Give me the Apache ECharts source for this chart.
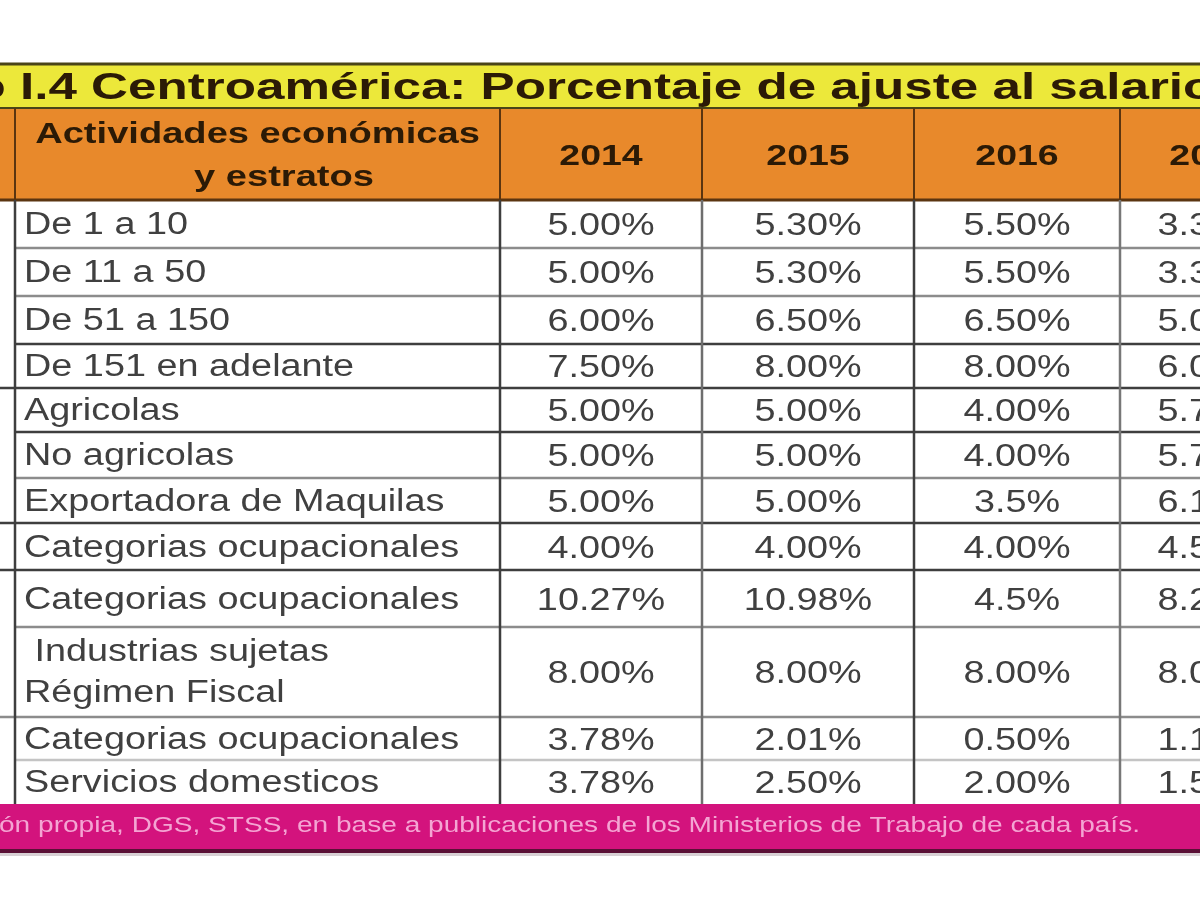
<!DOCTYPE html>
<html><head><meta charset="utf-8">
<script src="https://cdn.jsdelivr.net/npm/echarts@6/dist/echarts.min.js"></script>
<style>html,body{margin:0;padding:0;background:#fff}#c{width:1200px;height:900px}</style>
</head><body><div id="c"></div>
<script>
// ---------------- DATA ----------------
const titleText = 'Cuadro I.4 Centroamérica: Porcentaje de ajuste al salario mínimo';
const headerLabel = ['Actividades económicas', 'y estratos'];
const years = ['2014', '2015', '2016', '2017'];
const strata = ['De 1 a 10', 'De 11 a 50', 'De 51 a 150', 'De 151 en adelante', 'Agricolas', 'No agricolas',
  'Exportadora de Maquilas', 'Categorias ocupacionales', 'Categorias ocupacionales',
  ' Industrias sujetas\nRégimen Fiscal', 'Categorias ocupacionales', 'Servicios domesticos'];
const v2014 = [5.00, 5.00, 6.00, 7.50, 5.00, 5.00, 5.00, 4.00, 10.27, 8.00, 3.78, 3.78];
const v2015 = [5.30, 5.30, 6.50, 8.00, 5.00, 5.00, 5.00, 4.00, 10.98, 8.00, 2.01, 2.50];
const v2016 = [5.50, 5.50, 6.50, 8.00, 4.00, 4.00, 3.5, 4.00, 4.5, 8.00, 0.50, 2.00];
const v2017 = [3.30, 3.30, 5.00, 6.00, 5.70, 5.70, 6.10, 4.50, 8.25, 8.00, 1.13, 1.50];
const dec2014 = [2, 2, 2, 2, 2, 2, 2, 2, 2, 2, 2, 2];
const dec2015 = [2, 2, 2, 2, 2, 2, 2, 2, 2, 2, 2, 2];
const dec2016 = [2, 2, 2, 2, 2, 2, 1, 2, 1, 2, 2, 2];
const dec2017 = [2, 2, 2, 2, 2, 2, 2, 2, 2, 2, 2, 2];
const sourceText = 'Fuente: Elaboración propia, DGS, STSS, en base a publicaciones de los Ministerios de Trabajo de cada país.';

// ---------------- LAYOUT (page units) ----------------
const colX = [-300, 15, 500, 702, 914, 1120, 1302];
const rowY = [200, 248, 296, 344, 388, 432, 478, 523, 570, 627, 717, 760, 804];
const titleBand = [64, 108];
const headerBand = [108, 200];
const footerBand = [804, 849];
const groupLines = [388, 523, 570, 717];          // lines reaching the left edge
const darkLines = [344, 388, 432, 523, 570];
const lightLines = [760];

// ---------------- STYLE ----------------
const FF = '"Liberation Sans", Arial, sans-serif';
const C = {
  yellow: '#ECE83A', orange: '#E8892B', head: '#2b1a06', body: '#404040',
  magenta: '#D3137D', pinkText: '#F4A5D3', footLine: '#5A1036',
  dark: '#3e3e3e', grey: '#8c8c8c', light: '#c4c4c4', brown: '#5b3510', olive: '#4a4518'
};

const ctx = document.createElement('canvas').getContext('2d');
function tw(text, font) { ctx.font = font; return ctx.measureText(text).width; }

const els = [];
function rect(x0, y0, x1, y1, fill) { els.push({ k: 'rect', x0, y0, x1, y1, fill }); }
function line(x0, y0, x1, y1, stroke, w) { els.push({ k: 'line', x0, y0, x1, y1, stroke, w }); }
function text(x, y, t, font, fill, align, sx) { els.push({ k: 'text', x0: x, y0: y, t, font, fill, align, sx }); }

// backgrounds
rect(0, 0, 1200, 900, '#ffffff');
rect(-10, titleBand[0], 1210, titleBand[1], C.yellow);
rect(-10, headerBand[0], 1210, headerBand[1], C.orange);
rect(-10, footerBand[0], 1210, footerBand[1], C.magenta);
rect(-10, footerBand[1], 1210, footerBand[1] + 4, C.footLine);
rect(-10, footerBand[1] + 4, 1210, footerBand[1] + 7, '#d8d0d4');

// title
const titleFont = 'bold 37px ' + FF;
const tStart = titleText.indexOf('I.4');
const tVisible = 'I.4 Centroamérica: Porcentaje de ajuste al salari';
const tScale = (1183 - 20) / tw(tVisible, titleFont);
text(20 - tScale * tw(titleText.slice(0, tStart), titleFont), 89, titleText, titleFont, C.head, 'left', tScale);
line(-10, titleBand[0], 1210, titleBand[0], C.olive, 3);
line(-10, titleBand[1], 1210, titleBand[1], C.olive, 2);

// header
const headFont = 'bold 30px ' + FF;
text((colX[1] + colX[2]) / 2, 135, headerLabel[0], headFont, C.head, 'center', 1.27);
text(284, 178, headerLabel[1], headFont, C.head, 'center', 1.27);
years.forEach((y, j) => {
  text((colX[j + 2] + colX[j + 3]) / 2, 157, y, headFont, C.head, 'center', 1.25);
});
for (let j = 1; j < colX.length - 1; j++) line(colX[j], headerBand[0], colX[j], headerBand[1], C.brown, 2);
line(-10, headerBand[1], 1210, headerBand[1], C.brown, 3);

// body
const bodyFont = '31px ' + FF;
const cols = [v2014, v2015, v2016, v2017];
const decs = [dec2014, dec2015, dec2016, dec2017];
strata.forEach((s, i) => {
  const yc = (rowY[i] + rowY[i + 1]) / 2 + 1.5;
  const parts = s.split('\n');
  if (parts.length === 1) {
    text(24, yc, s, bodyFont, C.body, 'left', 1.22);
  } else {
    text(24, yc - 21, parts[0], bodyFont, C.body, 'left', 1.22);
    text(24, yc + 20, parts[1], bodyFont, C.body, 'left', 1.22);
  }
  cols.forEach((vals, j) => {
    const label = vals[i].toFixed(decs[j][i]) + '%';
    text((colX[j + 2] + colX[j + 3]) / 2, yc + 1, label, bodyFont, C.body, 'center', 1.22);
  });
});
// horizontal row lines
for (let i = 1; i < rowY.length - 1; i++) {
  const y = rowY[i];
  const x0 = groupLines.includes(y) ? -10 : colX[1];
  const col = darkLines.includes(y) ? C.dark : (lightLines.includes(y) ? C.light : C.grey);
  line(x0, y, 1210, y, col, 2.5);
}
// vertical lines
line(colX[1], headerBand[1], colX[1], footerBand[0], C.dark, 2.5);
line(colX[2], headerBand[1], colX[2], footerBand[0], C.dark, 2.5);
line(colX[3], headerBand[1], colX[3], footerBand[0], '#6e6e6e', 2.5);
line(colX[4], headerBand[1], colX[4], footerBand[0], C.dark, 2.5);
line(colX[5], headerBand[1], colX[5], footerBand[0], '#777777', 2.5);

// footer
const footFont = '22px ' + FF;
const fStart = sourceText.indexOf('ón propia');
const fScale = (1140 - (-1)) / tw(sourceText.slice(fStart), footFont);
text(-1 - fScale * tw(sourceText.slice(0, fStart), footFont), 826, sourceText, footFont, C.pinkText, 'left', fScale);

function renderItem(params, api) {
  const e = els[params.dataIndex];
  const p0 = api.coord([e.x0, e.y0]);
  if (e.k === 'rect') {
    const p1 = api.coord([e.x1, e.y1]);
    return { type: 'rect', shape: { x: Math.min(p0[0], p1[0]), y: Math.min(p0[1], p1[1]), width: Math.abs(p1[0] - p0[0]), height: Math.abs(p1[1] - p0[1]) }, style: { fill: e.fill } };
  }
  if (e.k === 'line') {
    const p1 = api.coord([e.x1, e.y1]);
    return { type: 'line', shape: { x1: p0[0], y1: p0[1], x2: p1[0], y2: p1[1] }, style: { stroke: e.stroke, lineWidth: e.w } };
  }
  return { type: 'text', x: p0[0], y: p0[1], scaleX: e.sx, style: { text: e.t, font: e.font, fill: e.fill, align: e.align, verticalAlign: 'middle' } };
}

const chart = echarts.init(document.getElementById('c'), null, { renderer: 'canvas' });
chart.setOption({
  animation: false,
  backgroundColor: '#ffffff',
  grid: { left: 0, right: 0, top: 0, bottom: 0 },
  xAxis: { type: 'value', min: 0, max: 1200, show: false },
  yAxis: { type: 'value', min: 0, max: 900, inverse: true, show: false },
  series: [{
    type: 'custom', coordinateSystem: 'cartesian2d', clip: false, silent: true,
    renderItem: renderItem,
    data: els.map(e => [e.x0, e.y0])
  }]
});
</script></body></html>
